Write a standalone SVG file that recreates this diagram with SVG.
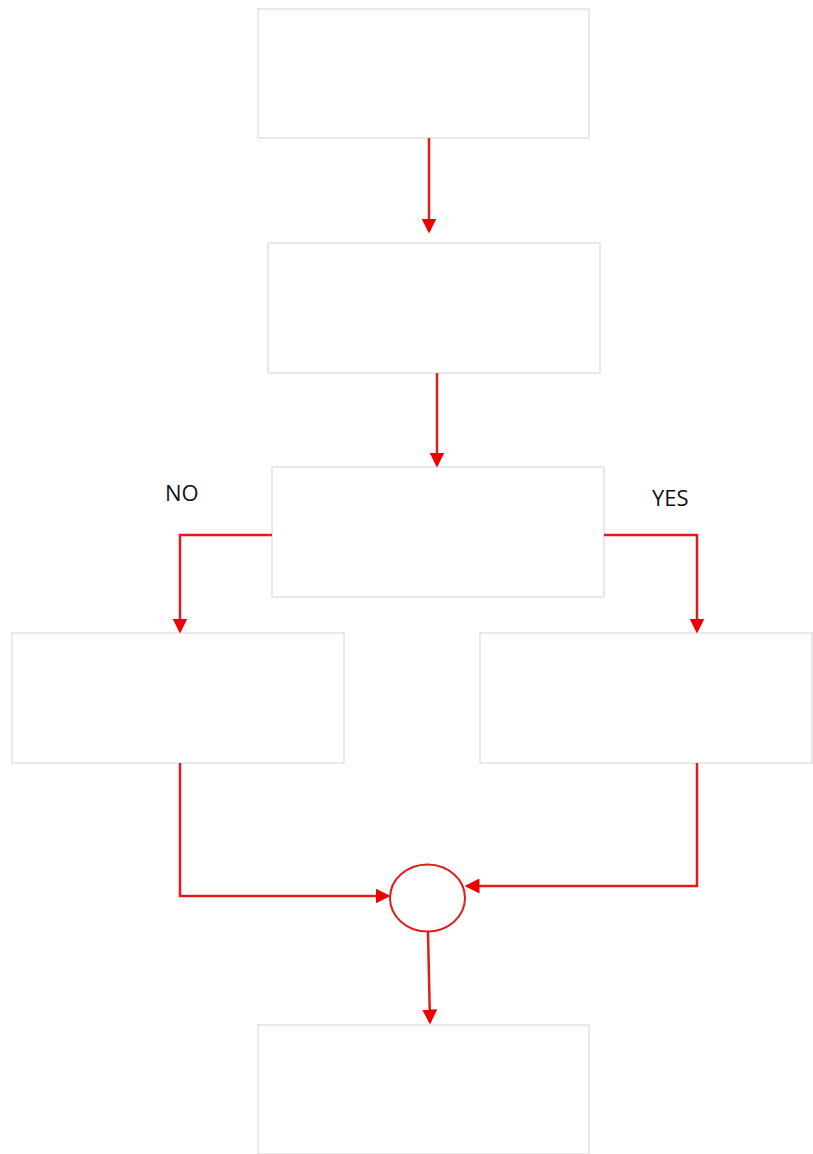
<svg xmlns="http://www.w3.org/2000/svg" width="813" height="1154" viewBox="0 0 813 1154">
<style>
.box{fill:#fff;stroke:#e2e2e2;stroke-width:1.5}
.con{fill:none;stroke:#e31b1b;stroke-width:2.5}
.lbl{font-family:"Open Sans","Liberation Sans",sans-serif;font-size:22px;fill:#111}
</style>
<defs>
<marker id="ah" markerWidth="6" markerHeight="6" refX="5" refY="3" orient="auto" markerUnits="strokeWidth">
<path d="M0,0 L6,3 L0,6 Z" fill="#e00"/>
</marker>
</defs>
<rect width="813" height="1154" fill="#fff"/>
<g id="n1"><rect class="box" x="258" y="9" width="331" height="129"/></g>
<g id="n2"><rect class="box" x="268" y="243" width="332" height="130"/></g>
<g id="n3"><rect class="box" x="272" y="467" width="332" height="130"/></g>
<g id="n4"><rect class="box" x="12" y="633" width="332" height="130"/></g>
<g id="n5"><rect class="box" x="480" y="633" width="332" height="130"/></g>
<g id="n6"><ellipse cx="427.5" cy="898" rx="37.5" ry="33.5" fill="#fff" stroke="#e31b1b" stroke-width="2"/></g>
<g id="n7"><rect class="box" x="258" y="1025" width="331" height="129"/></g>
<g id="labels">
<text class="lbl" x="165" y="501">NO</text>
<text class="lbl" x="652" y="506">YES</text>
</g>
<g id="connectors">
<path class="con" d="M429,138 L429,231" marker-end="url(#ah)"/>
<path class="con" d="M437,373 L437,465" marker-end="url(#ah)"/>
<path class="con" d="M272,535 L180,535 L180,631" marker-end="url(#ah)"/>
<path class="con" d="M604,535 L697,535 L697,631" marker-end="url(#ah)"/>
<path class="con" d="M180,763 L180,896 L388,896" marker-end="url(#ah)"/>
<path class="con" d="M697,763 L697,886 L467,886" marker-end="url(#ah)"/>
<path class="con" d="M428,932 L430,1022" marker-end="url(#ah)"/>
</g>
</svg>
